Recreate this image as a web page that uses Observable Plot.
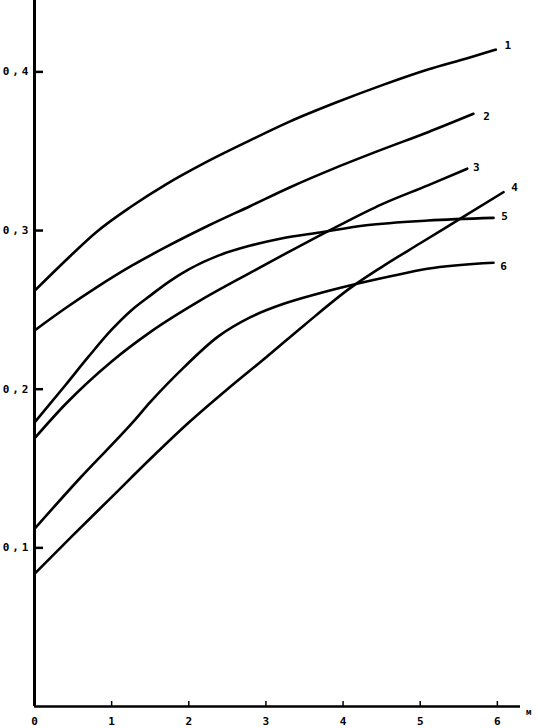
<!DOCTYPE html>
<html>
<head>
<meta charset="utf-8">
<script src="https://cdn.jsdelivr.net/npm/d3@7"></script>
<script src="https://cdn.jsdelivr.net/npm/@observablehq/plot@0.6"></script>
<style>
  html, body { margin: 0; padding: 0; background: #fff; }
  #chart svg g[aria-label="y-axis tick label"] text { letter-spacing: 3px; }
</style>
</head>
<body>
<div id="chart"></div>
<script>
// ---- data ----
const xTicks = [0, 1, 2, 3, 4, 5, 6];
const yTicks = [0.1, 0.2, 0.3, 0.4];
const yTickLabels = ["0,1", "0,2", "0,3", "0,4"];
const xUnit = "м";
const seriesNames = ["1", "2", "3", "4", "5", "6"];

const series1 = [[0,0.262],[0.4,0.281],[0.8,0.299],[1.25,0.315],[1.7,0.329],[2.2,0.3425],[2.8,0.357],[3.3,0.3685],[3.9,0.3805],[4.5,0.3915],[5.1,0.4015],[5.6,0.4085],[5.98,0.414]];
const series2 = [[0,0.237],[0.4,0.251],[0.8,0.264],[1.25,0.2775],[1.7,0.2895],[2.25,0.303],[2.8,0.3155],[3.3,0.327],[3.9,0.3395],[4.5,0.351],[5.1,0.362],[5.69,0.3736]];
const series3 = [[0,0.169],[0.4,0.1905],[1.0,0.2175],[1.5,0.236],[2.15,0.256],[2.8,0.2735],[3.2,0.284],[3.9,0.302],[4.5,0.3165],[5.1,0.3285],[5.61,0.339]];
const series4 = [[0,0.0836],[0.5,0.108],[1.0,0.132],[1.5,0.156],[2.0,0.179],[2.5,0.2],[3.0,0.22],[3.5,0.2405],[4.1,0.264],[4.5,0.277],[5.0,0.292],[5.52,0.3075],[6.08,0.3242]];
const series5 = [[0,0.179],[0.4,0.2025],[0.7,0.2205],[1.0,0.2375],[1.25,0.2495],[1.5,0.259],[1.75,0.268],[2.0,0.2755],[2.4,0.2845],[2.8,0.2905],[3.2,0.295],[3.7,0.2988],[4.3,0.3033],[5.1,0.3063],[5.95,0.308]];
const series6 = [[0,0.112],[0.6,0.1445],[1.29,0.180],[1.5,0.1918],[1.94,0.2139],[2.37,0.2328],[2.8,0.2454],[3.23,0.2538],[3.66,0.260],[4.1,0.2655],[4.6,0.271],[5.09,0.2759],[5.95,0.2797]];

// ---- build table ----
const allSeries = [series1, series2, series3, series4, series5, series6];
const rows = allSeries.flatMap((s, i) => s.map(([x, y]) => ({series: seriesNames[i], x, y})));
const ends = allSeries.map((s, i) => ({series: seriesNames[i], x: s[s.length - 1][0], y: s[s.length - 1][1]}));

// styles / layout
const W = 538, H = 728, mL = 34, mR = 18, mT = 0, mB = 22;
const frameW = W - mL - mR, frameH = H - mT - mB;
const labelOffset = {"1": [12, -4], "2": [13, 3], "3": [9, -1], "4": [11, -5], "5": [11, -1], "6": [10, 4]};
const font = "'DejaVu Sans Mono', monospace";

const chart = Plot.plot({
  width: W,
  height: H,
  marginLeft: mL,
  marginRight: mR,
  marginTop: mT,
  marginBottom: mB,
  style: {background: "#fff", color: "#000", fontFamily: font, fontSize: "11px"},
  x: {domain: [0, 6.3], label: null},
  y: {domain: [0, 0.445], label: null},
  marks: [
    Plot.line(rows, {x: "x", y: "y", z: "series", stroke: "#000", strokeWidth: 2.6, curve: "monotone-x"}),
    // inward ticks (9px on y, 5px on x)
    Plot.tickY(yTicks, {y: d => d, insetRight: frameW - 9, stroke: "#000", strokeWidth: 2.5}),
    Plot.tickX(xTicks.filter(d => d > 0), {x: d => d, insetTop: frameH - 5, stroke: "#000", strokeWidth: 1.5}),
    // axis lines
    Plot.ruleX([0], {stroke: "#000", strokeWidth: 3}),
    Plot.ruleY([0], {stroke: "#000", strokeWidth: 2.5}),
    // tick labels
    Plot.axisY({ticks: yTicks, tickSize: 0, tickPadding: 3, fontSize: 11, fontWeight: "bold",
      tickFormat: d => yTickLabels[yTicks.indexOf(d)]}),
    Plot.axisX({ticks: xTicks, tickSize: 0, tickPadding: 11, fontSize: 11, fontWeight: "bold",
      tickFormat: d => String(d)}),
    Plot.text([xUnit], {frameAnchor: "bottom-right", dx: 11, dy: 8, fontSize: 9, fontWeight: "bold"}),
    ...ends.map(e => Plot.text([e], {x: "x", y: "y", text: "series", textAnchor: "middle",
      dx: labelOffset[e.series][0], dy: labelOffset[e.series][1], fontSize: 11, fontWeight: "bold"}))
  ]
});
document.getElementById("chart").appendChild(chart);
</script>
</body>
</html>
